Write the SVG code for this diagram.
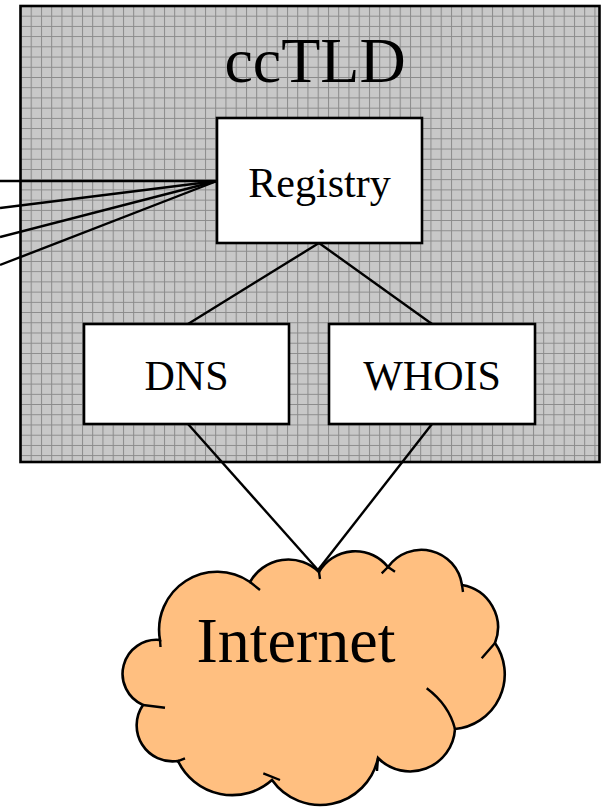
<svg xmlns="http://www.w3.org/2000/svg" width="601" height="807" viewBox="0 0 601 807">
<style>
.t{font-family:"Liberation Serif","Times New Roman",serif;fill:#000;text-anchor:middle}
.box{fill:#fff;stroke:#000;stroke-width:2.6}
.ln{stroke:#000;stroke-width:2.4;fill:none}
.tick{stroke:#000;stroke-width:2.4;fill:none;stroke-linecap:butt}
</style>
<defs>
<pattern id="grid" patternUnits="userSpaceOnUse" x="20.45" y="5.48" width="10.25" height="10.22">
<rect width="10.25" height="10.22" fill="#c8c8c8"/>
<path d="M0.5,0V10.22M0,0.5H10.25" stroke="#8a8a8a" stroke-width="1"/>
</pattern>
</defs>
<g id="cctld">
<rect x="20.5" y="6" width="579" height="456" fill="url(#grid)" stroke="#000" stroke-width="2.6"/>
<text class="t" x="315" y="82" font-size="64">ccTLD</text>
</g>
<g id="connectors" class="ln">
<line x1="0" y1="181" x2="217" y2="181"/>
<line x1="0" y1="208" x2="217" y2="181"/>
<line x1="0" y1="237" x2="217" y2="181"/>
<line x1="0" y1="265" x2="217" y2="181"/>
<line x1="319" y1="243" x2="188" y2="324"/>
<line x1="319" y1="243" x2="432" y2="324"/>
<line x1="188" y1="424" x2="318" y2="570"/>
<line x1="432" y1="424" x2="318" y2="570"/>
</g>
<g id="registry">
<rect class="box" x="217" y="118" width="205" height="125"/>
<text class="t" x="319.5" y="197" font-size="42">Registry</text>
</g>
<g id="dns">
<rect class="box" x="84" y="324" width="205" height="100"/>
<text class="t" x="186.5" y="390" font-size="42">DNS</text>
</g>
<g id="whois">
<rect class="box" x="329" y="324" width="206" height="100"/>
<text class="t" x="432" y="390" font-size="42">WHOIS</text>
</g>
<g id="internet">
<path d="M160,640 A58,58 0 0 1 250,582 A44,44 0 0 1 319,572 A42,42 0 0 1 388,567 A41,41 0 0 1 462,585 A43,43 0 0 1 495,643 A55,55 0 0 1 455,729 A45,45 0 0 1 378,758 A59,59 0 0 1 272,780 A60,60 0 0 1 178,761 A36,36 0 0 1 143,705 A34,34 0 0 1 160,640 Z" fill="#ffbf80" stroke="#000" stroke-width="2.6"/>
<path class="tick" d="M160,640L160.5,647 M250,582L260,590 M319,572L320,579 M388,567L381.7,573.3 M388,567L395,571.7 M462,585L463,592 M495,643L481.7,658.3 M426.7,688.3Q449,705 455,729 M378,758L377,771 M263.3,773.3L280,780 M176.7,761.7L185,758.3 M143,705L165,707.7"/>
<text class="t" x="296" y="662" font-size="64">Internet</text>
</g>
</svg>
